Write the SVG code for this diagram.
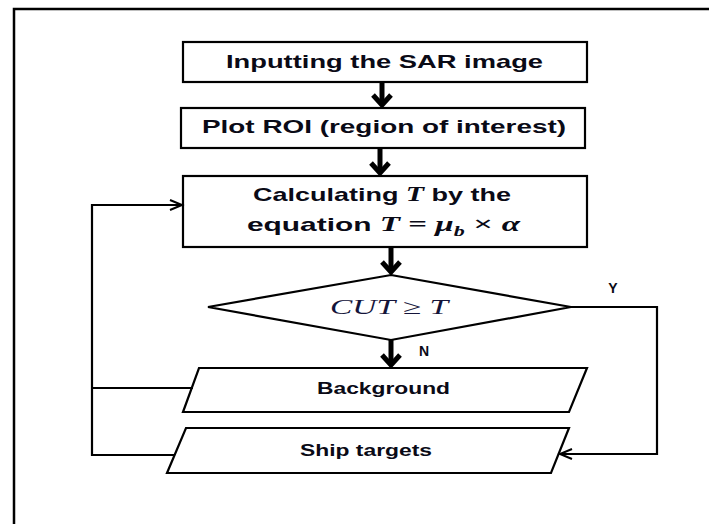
<svg xmlns="http://www.w3.org/2000/svg" width="709" height="524" viewBox="0 0 709 524">
<style>
.box{fill:#fff;stroke:#000;stroke-width:2.2}
.t{font-family:"Liberation Sans",Arial,sans-serif;font-weight:bold;fill:#0a0a16;text-anchor:middle}
.m{font-family:"Liberation Serif","Times New Roman",serif;font-style:italic}
.ln{fill:none;stroke:#000;stroke-width:2.2}
.thick{fill:none;stroke:#000;stroke-width:5}
.head{fill:none;stroke:#000;stroke-width:5;stroke-linejoin:miter;stroke-linecap:butt}
.open{fill:none;stroke:#000;stroke-width:2}
</style>
<rect width="709" height="524" fill="#fff"/>
<path d="M14 524 V9 H709" fill="none" stroke="#000" stroke-width="2.5"/>

<g id="n1">
<rect class="box" x="183" y="42" width="404" height="40"/>
<text class="t" x="384.5" y="68" font-size="19" textLength="317" lengthAdjust="spacingAndGlyphs">Inputting the SAR image</text>
</g>
<g id="n2">
<rect class="box" x="181" y="108" width="404" height="40"/>
<text class="t" x="384" y="133" font-size="19" textLength="364" lengthAdjust="spacingAndGlyphs">Plot ROI (region of interest)</text>
</g>
<g id="n3">
<rect class="box" x="183" y="176" width="404" height="71"/>
<text class="t" x="382" y="201" font-size="19" textLength="258" lengthAdjust="spacingAndGlyphs">Calculating <tspan class="m" font-size="21">T</tspan> by the</text>
<text class="t" x="383.5" y="231" font-size="19" textLength="273" lengthAdjust="spacingAndGlyphs">equation <tspan class="m" font-size="21">T</tspan><tspan font-family="Liberation Serif,serif" font-size="21"> = </tspan><tspan class="m" font-size="21">μ</tspan><tspan class="m" font-size="14" dy="5">b</tspan><tspan font-family="Liberation Serif,serif" font-size="22" dy="-5"> × </tspan><tspan class="m" font-size="21">α</tspan></text>
</g>
<g id="n4">
<polygon class="box" points="391,275 571,307 391,340 208,307"/>
<text x="389" y="314" font-family="Liberation Serif,'Times New Roman',serif" font-style="italic" font-size="21" fill="#14143a" text-anchor="middle" textLength="118" lengthAdjust="spacingAndGlyphs">CUT ≥ T</text>
</g>
<g id="n5">
<polygon class="box" points="199,368 587,368 569,412 183,412"/>
<text class="t" x="383.5" y="394" font-size="17" textLength="133" lengthAdjust="spacingAndGlyphs">Background</text>
</g>
<g id="n6">
<polygon class="box" points="186,428 569,428 551,473 167,473"/>
<text class="t" x="366" y="456" font-size="17" textLength="132" lengthAdjust="spacingAndGlyphs">Ship targets</text>
</g>

<g id="connectors">
<line class="thick" x1="382" y1="82" x2="382" y2="105"/>
<polyline class="head" points="373,95 382,105 391,95"/>
<line class="thick" x1="380" y1="148" x2="380" y2="173"/>
<polyline class="head" points="371,163 380,173 389,163"/>
<line class="thick" x1="391" y1="247" x2="391" y2="272"/>
<polyline class="head" points="382,262 391,272 400,262"/>
<line class="thick" x1="391" y1="340" x2="391" y2="365"/>
<polyline class="head" points="382,355 391,365 400,355"/>

<path class="ln" d="M175 455 H92 V205 H182"/>
<polyline class="open" points="170,200 182,205 170,210"/>
<path class="ln" d="M193 388 H92"/>
<path class="ln" d="M571 307 H657 V454 H560"/>
<polyline class="open" points="572,449 560,454 572,459"/>

<text class="t" x="613" y="293" font-size="14">Y</text>
<text class="t" x="424" y="356" font-size="14">N</text>
</g>
</svg>
